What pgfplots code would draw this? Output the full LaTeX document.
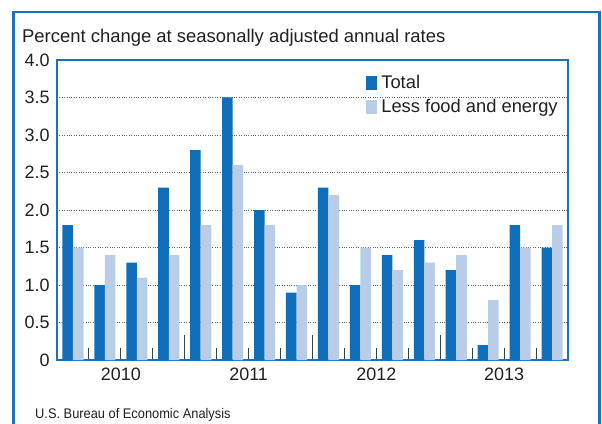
\documentclass[border=0pt]{standalone}
\usepackage{fontspec}
\setmainfont{Liberation Sans}
\newfontfamily\narrowfont[FakeStretch=0.92]{Liberation Sans}
\usepackage{pgfplots}
\pgfplotsset{compat=1.18}
\definecolor{frameblue}{HTML}{1A72BB}
\definecolor{darkbar}{HTML}{106EB8}
\definecolor{lightbar}{HTML}{B9CDE6}
\definecolor{txt}{HTML}{231F20}
\begin{document}
\begin{tikzpicture}[x=1bp,y=1bp]
\useasboundingbox (0,0) rectangle (602,423);
\draw[frameblue, line width=2.5bp] (13.25,-5) -- (13.25,411) -- (599.5,411) -- (599.5,-5);
\node[anchor=base west, text=txt, font=\fontsize{18.5}{22}\selectfont, inner sep=0pt] at (22,381) {Percent change at seasonally adjusted annual rates};
\node[anchor=base west, text=txt, font=\narrowfont\fontsize{14}{16}\selectfont, inner sep=0pt] at (35,5) {U.S. Bureau of Economic Analysis};
\begin{axis}[
  at={(57bp,63bp)}, anchor=south west,
  scale only axis, width=511bp, height=300bp,
  xmin=0, xmax=16, ymin=0, ymax=4,
  axis line style={frameblue, line width=2.5bp},
  ybar, bar width=0.33,
  ytick={0,0.5,1,1.5,2,2.5,3,3.5,4},
  yticklabels={0,0.5,1.0,1.5,2.0,2.5,3.0,3.5,4.0},
  ytick style={draw=none},
  yticklabel style={font=\fontsize{18}{21}\selectfont, text=txt, xshift=-4bp},
  ymajorgrids, grid style={black!60, dotted, line width=0.6bp},
  xtick={4,8,12}, xticklabels={},
  minor xtick={1,2,3,5,6,7,9,10,11,13,14,15},
  xtick pos=bottom, tick align=inside,
  major tick length=25bp, minor tick length=12bp,
  xtick style={black!75, line width=1bp},
  minor tick style={black!75, line width=1bp},
  extra x ticks={2,6,10,14},
  extra x tick labels={2010,2011,2012,2013},
  extra x tick style={major tick length=0pt, grid=none, xticklabel style={font=\fontsize{18}{21}\selectfont, text=txt, yshift=-4bp}},
  legend image code/.code={\fill[#1] (0bp,-6.8bp) rectangle (11bp,6.8bp);},
  legend style={at={(0.605,0.952)}, anchor=north west, draw=none, fill=none,
    font=\fontsize{18.4}{22}\selectfont, text=txt, row sep=7bp,
    inner sep=0pt, nodes={inner xsep=4bp, inner ysep=1bp}},
  legend cell align=left,
]
\addplot[fill=darkbar, draw=none, bar shift=-0.165] coordinates {
 (0.5,1.8) (1.5,1.0) (2.5,1.3) (3.5,2.3)
 (4.5,2.8) (5.5,3.5) (6.5,2.0) (7.5,0.9)
 (8.5,2.3) (9.5,1.0) (10.5,1.4) (11.5,1.6)
 (12.5,1.2) (13.5,0.2) (14.5,1.8) (15.5,1.5)};
\addplot[fill=lightbar, draw=none, bar shift=0.165] coordinates {
 (0.5,1.5) (1.5,1.4) (2.5,1.1) (3.5,1.4)
 (4.5,1.8) (5.5,2.6) (6.5,1.8) (7.5,1.0)
 (8.5,2.2) (9.5,1.5) (10.5,1.2) (11.5,1.3)
 (12.5,1.4) (13.5,0.8) (14.5,1.5) (15.5,1.8)};
\legend{Total, Less food and energy}
\end{axis}
\end{tikzpicture}
\end{document}
